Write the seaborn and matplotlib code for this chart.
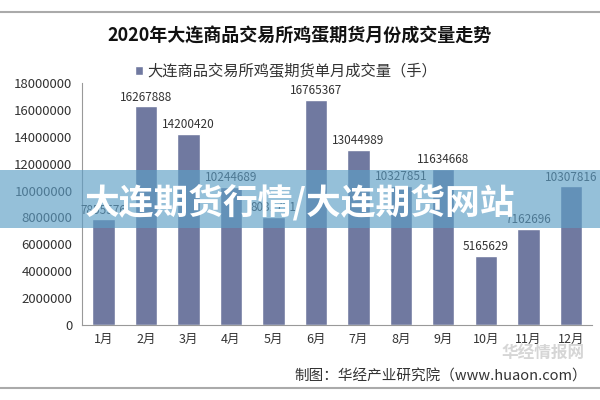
import matplotlib
matplotlib.use("Agg")
import matplotlib.pyplot as plt
import seaborn as sns
import pandas as pd

months = ["1月", "2月", "3月", "4月", "5月", "6月", "7月", "8月", "9月", "10月", "11月", "12月"]
volumes = [7855576, 16267888, 14200420, 10244689, 8031721, 16765367,
           13044989, 10327851, 11634668, 5165629, 7162696, 10307816]
yticks = list(range(0, 18000001, 2000000))

sns.set_theme(style="white")
plt.rcParams['font.family'] = ['Noto Sans CJK SC', 'DejaVu Sans']

df = pd.DataFrame({"month": months, "volume": volumes})

fig = plt.figure(figsize=(6, 4), dpi=100)
ax = fig.add_axes([0.137, 0.1875, 0.85, 0.605])

bar_color = "#7079A0"
sns.barplot(data=df, x="month", y="volume", color=bar_color, width=0.52,
            saturation=1, ax=ax, label="大连商品交易所鸡蛋期货单月成交量（手）")

ax.set_ylim(0, 18000000)
ax.set_xlim(-0.5, 11.5)
ax.set_yticks(yticks)
ax.set_yticklabels([str(v) for v in yticks], fontsize=9.5, color="#333333")
ax.set_xticks(range(len(months)))
ax.set_xticklabels(months, fontsize=9, color="#333333")
ax.set_xlabel("")
ax.set_ylabel("")

# tick marks between categories on the x axis
ax.set_xticks([i - 0.5 for i in range(len(months) + 1)], minor=True)
ax.tick_params(axis="x", which="major", length=0, pad=6)
ax.tick_params(axis="x", which="minor", length=4, direction="out", color="#999999")
ax.tick_params(axis="y", length=4, direction="out", color="#999999", pad=3)

for s in ["top", "right"]:
    ax.spines[s].set_visible(False)
for s in ["left", "bottom"]:
    ax.spines[s].set_color("#999999")
    ax.spines[s].set_linewidth(0.8)

# value labels
for c in ax.containers:
    ax.bar_label(c, labels=[str(v) for v in volumes], padding=2, fontsize=8.5, color="#333333")

leg = ax.legend(loc="upper center", bbox_to_anchor=(0.40, 1.14), frameon=False,
                fontsize=11, handlelength=0.5, handleheight=0.5, handletextpad=0.3)
for t in leg.get_texts():
    t.set_color("#333333")

fig.text(0.5, 0.91, "2020年大连商品交易所鸡蛋期货月份成交量走势", ha="center", va="center",
         fontsize=13, fontweight="bold", color="#111111")

fig.text(0.978, 0.06, "制图：华经产业研究院（www.huaon.com）", ha="right", va="center",
         fontsize=10.5, color="#333333")

# faint watermark logo
fig.text(0.975, 0.115, "华经情报网", ha="right", va="center", fontsize=12,
         fontweight="bold", color="#cccccc", alpha=0.8)

# frame lines at top and bottom
fig.add_artist(plt.Line2D([0, 1], [0.97, 0.97], color="#aaaaaa", lw=1.5))
fig.add_artist(plt.Line2D([0, 1], [0.03, 0.03], color="#aaaaaa", lw=1.5))

# overlay banner
fig.add_artist(plt.Rectangle((0, 0.43), 1, 0.145, transform=fig.transFigure,
                             color="#5c9ec6", alpha=0.65, lw=0))
fig.text(0.5, 0.495, "大连期货行情/大连期货网站", ha="center", va="center",
         fontsize=25, fontweight="bold", color="white")

fig.savefig("out.png", dpi=100)
